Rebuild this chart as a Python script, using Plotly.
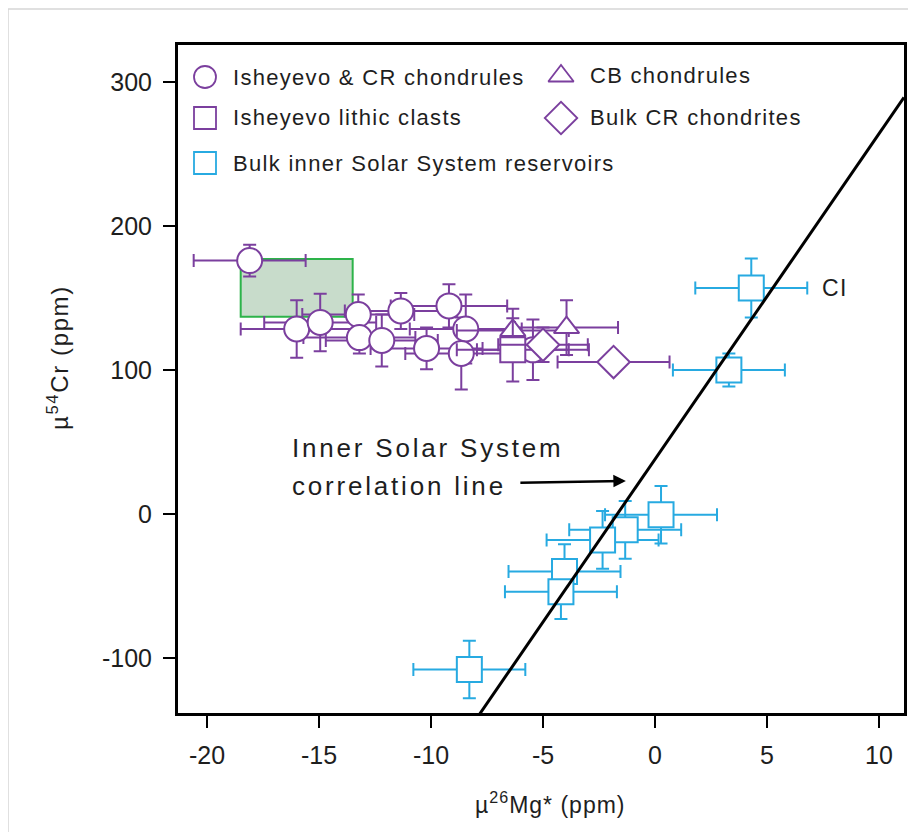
import plotly.graph_objects as go

# ---------------- data ----------------
# Isheyevo & CR chondrules
circ_x = [-18.1, -16.0, -14.95, -13.25, -13.2, -12.2, -11.35, -10.2, -9.2, -8.45, -8.65, -5.45]
circ_y = [176, 128.5, 133, 138.5, 122.5, 120.5, 141, 115, 144.5, 128.5, 111.5, 114]
circ_xerr = [2.5, 2.5, 2.5, 2.5, 2.5, 2.5, 2.5, 2.5, 2.6, 2.5, 2.5, 2.5]
circ_yerr = [11, 20, 20, 14, 11, 18, 12.5, 14.5, 15, 24, 25, 21]

# Isheyevo lithic clasts
lith_x = [-6.35]
lith_y = [114]
lith_xerr = [2.5]
lith_yerr = [22]

# CB chondrules
cb_x = [-6.35, -3.95]
cb_y = [127.5, 129.5]
cb_xerr = [2.5, 2.3]
cb_yerr = [15, 19]

# Bulk CR chondrites
bcr_x = [-5.0, -1.85]
bcr_y = [117.5, 105.5]
bcr_xerr = [2.0, 2.5]
bcr_yerr = [12, 5]

# Bulk inner Solar System reservoirs
iss_x = [4.3, 3.3, 0.27, -1.33, -2.34, -4.04, -4.2, -8.29]
iss_y = [157, 100, -0.5, -11, -18, -40, -54, -108]
iss_xerr = [2.5, 2.5, 2.5, 2.5, 2.5, 2.5, 2.5, 2.5]
iss_yerr = [20.5, 11.5, 20, 20, 20, 19, 19, 20]

# Inner Solar System correlation line  (y = slope * x + intercept)
line_slope = 22.6
line_intercept = 38.0

# Isheyevo / CR field (shaded box)
box_x = [-18.5, -13.5]
box_y = [137, 177]

x_range = [-21.3, 11.12]
y_range = [-138.2, 325.7]
x_ticks = [-20, -15, -10, -5, 0, 5, 10]
x_tick_labels = ["-20", "-15", "-10", "-5", "0", "5", "10"]
y_ticks = [-100, 0, 100, 200, 300]
y_tick_labels = ["-100", "0", "100", "200", "300"]

legend_labels = ["Isheyevo &amp; CR chondrules", "CB chondrules",
                 "Isheyevo lithic clasts", "Bulk CR chondrites",
                 "Bulk inner Solar System reservoirs"]

x_title = "µ<sup>26</sup>Mg* (ppm)"
y_title = "µ<sup>54</sup>Cr (ppm)"

# ---------------- style ----------------
PURPLE = "#7b3f9e"
CYAN = "#27aae1"
FONT = "Liberation Sans, Arial, sans-serif"
TXT = "#1e1e1e"

ML, MR, MT, MB = 170, 20, 37, 127
PW, PH = 916 - ML - MR, 832 - MT - MB


def sp(text, px):
    return '<span style="letter-spacing:%spx">%s</span>' % (px, text)


def err_trace(x, y, xe, ye, symbol, size, color, name):
    return go.Scatter(
        x=x, y=y, mode="markers", name=name, showlegend=False,
        marker=dict(symbol=symbol, size=size, color="white",
                    line=dict(color=color, width=2)),
        error_x=dict(type="data", array=xe, color=color, thickness=2, width=6.5),
        error_y=dict(type="data", array=ye, color=color, thickness=2, width=6.5),
    )


fig = go.Figure()
fig.add_trace(err_trace(circ_x, circ_y, circ_xerr, circ_yerr, "circle", 25, PURPLE, "Isheyevo & CR chondrules"))
fig.add_trace(err_trace(cb_x, cb_y, cb_xerr, cb_yerr, "triangle-up", 22, PURPLE, "CB chondrules"))
fig.add_trace(err_trace(lith_x, lith_y, lith_xerr, lith_yerr, "square", 25, PURPLE, "Isheyevo lithic clasts"))
fig.add_trace(err_trace(bcr_x, bcr_y, bcr_xerr, bcr_yerr, "diamond", 25, PURPLE, "Bulk CR chondrites"))
fig.add_trace(err_trace(iss_x, iss_y, iss_xerr, iss_yerr, "square", 25, CYAN, "Bulk inner Solar System reservoirs"))

lx = [x_range[0], x_range[1]]
ly = [line_slope * v + line_intercept for v in lx]
fig.add_trace(go.Scatter(x=lx, y=ly, mode="lines", showlegend=False,
                         line=dict(color="black", width=3), hoverinfo="skip"))


def pu(px):  # screen px -> paper x (page has 8px body margin)
    return (px - 8 - ML) / PW


def pv(py):
    return 1 - (py - 8 - MT) / PH


# ---------------- custom legend (overlay axis 0..1) ----------------
leg_px_marker = [205, 561, 205, 561, 205]
leg_px_text = [231, 588, 231, 588, 231]
leg_py = [77, 76, 118, 118, 163]
leg_sym = ["circle", "triangle-up", "square", "diamond", "square"]
leg_size = [22, 22, 22, 25, 22]
leg_col = [PURPLE, PURPLE, PURPLE, PURPLE, CYAN]
for i in range(5):
    fig.add_trace(go.Scatter(
        x=[pu(leg_px_marker[i])], y=[pv(leg_py[i])], xaxis="x2", yaxis="y2",
        mode="markers", showlegend=False, hoverinfo="skip",
        marker=dict(symbol=leg_sym[i], size=leg_size[i], color="white",
                    line=dict(color=leg_col[i], width=1.8))))
    fig.add_annotation(x=pu(leg_px_text[i]), y=pv(leg_py[i]), xref="paper", yref="paper",
                       xanchor="left", yanchor="middle", showarrow=False,
                       text=sp(legend_labels[i], 1.3),
                       font=dict(family=FONT, size=22, color=TXT))

# ---------------- annotations ----------------
fig.add_annotation(x=pu(290), y=pv(448), xref="paper", yref="paper",
                   xanchor="left", yanchor="middle", showarrow=False,
                   text=sp("Inner Solar System", 2.8),
                   font=dict(family=FONT, size=26, color=TXT))
fig.add_annotation(x=pu(290), y=pv(486), xref="paper", yref="paper",
                   xanchor="left", yanchor="middle", showarrow=False,
                   text=sp("correlation line", 2.8),
                   font=dict(family=FONT, size=26, color=TXT))
fig.add_annotation(x=-1.3, y=23, xref="x", yref="y", text="", showarrow=True,
                   arrowhead=2, arrowsize=1, arrowwidth=2.5, arrowcolor="black",
                   ax=-107, ay=2, axref="pixel", ayref="pixel")
fig.add_annotation(x=7.35, y=157, xref="x", yref="y", text=sp("CI", 1.5),
                   xanchor="left", yanchor="middle", showarrow=False,
                   font=dict(family=FONT, size=23, color=TXT))

# axis titles
fig.add_annotation(x=pu(550), y=pv(803), xref="paper", yref="paper",
                   xanchor="center", yanchor="middle", showarrow=False,
                   text=sp(x_title, 1.0),
                   font=dict(family=FONT, size=23, color=TXT))
fig.add_annotation(x=pu(58), y=pv(358), xref="paper", yref="paper",
                   xanchor="center", yanchor="middle", showarrow=False,
                   textangle=-90, text=sp(y_title, 1.6),
                   font=dict(family=FONT, size=24, color=TXT))

# ---------------- shapes ----------------
fig.add_shape(type="rect", xref="x", yref="y", x0=box_x[0], x1=box_x[1],
              y0=box_y[0], y1=box_y[1], fillcolor="#c8dccb",
              line=dict(color="#2db34a", width=2), layer="below")
fig.add_shape(type="line", xref="paper", yref="paper", x0=pu(8), x1=pu(930),
              y0=pv(9), y1=pv(9), line=dict(color="#d6d6d6", width=1.5))
fig.add_shape(type="line", xref="paper", yref="paper", x0=pu(8), x1=pu(8),
              y0=pv(9), y1=pv(840), line=dict(color="#d6d6d6", width=1.5))

axis_common = dict(showgrid=False, zeroline=False, showline=True, linecolor="black",
                   linewidth=3, mirror=True, ticks="outside", ticklen=12,
                   tickwidth=2, tickcolor="black", ticklabelstandoff=6,
                   tickfont=dict(family=FONT, size=25, color=TXT))

fig.update_layout(
    width=916, height=832,
    margin=dict(l=ML, r=MR, t=MT, b=MB),
    paper_bgcolor="white", plot_bgcolor="white",
    showlegend=False,
    xaxis=dict(range=x_range, tickvals=x_ticks, ticktext=x_tick_labels, **axis_common),
    yaxis=dict(range=y_range, tickvals=y_ticks, ticktext=y_tick_labels, **axis_common),
    xaxis2=dict(overlaying="x", range=[0, 1], visible=False),
    yaxis2=dict(overlaying="y", range=[0, 1], visible=False),
)

fig.write_html("out.html")
